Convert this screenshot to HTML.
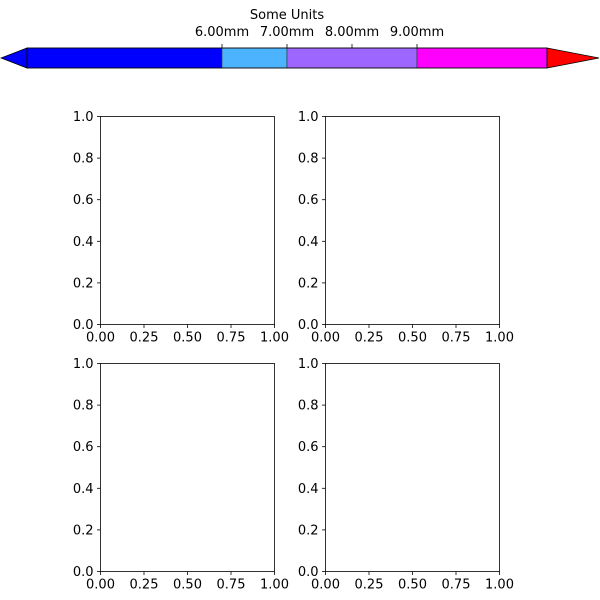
<!DOCTYPE html>
<html><head><meta charset="utf-8"><style>body{margin:0;background:#fff}svg{display:block}text{font-family:"DejaVu Sans","Liberation Sans",sans-serif;font-size:13px;fill:#000}</style></head>
<body>
<svg id="c" width="600" height="600"></svg>
<script>
const boundaries=[3,6,7,9,11];
const colors=['#0000ff','#4cb4ff','#9c66ff','#ff00ff'];
const cbTicks=[6,7,8,9];
const cbTickLabels=['6.00mm','7.00mm','8.00mm','9.00mm'];
const xTicks=[0,0.25,0.5,0.75,1];
const xTickLabels=['0.00','0.25','0.50','0.75','1.00'];
const yTicks=[0,0.2,0.4,0.6,0.8,1];
const yTickLabels=['0.0','0.2','0.4','0.6','0.8','1.0'];
const NS='http://www.w3.org/2000/svg';
const svg=document.getElementById('c');
function mk(t,a,p){const e=document.createElementNS(NS,t);for(const k in a)e.setAttribute(k,a[k]);(p||svg).appendChild(e);return e;}
const cx0=27,cx1=547,cy0=48,cy1=68;
const cbX=v=>cx0+(v-boundaries[0])/(boundaries[boundaries.length-1]-boundaries[0])*(cx1-cx0);
const cb=mk('g',{});


const l=mk('polygon',{points:`${cx0},${cy0} 1,58 ${cx0},${cy1}`,fill:'#0000ff',stroke:'#000','stroke-width':0.8},cb);


const r=mk('polygon',{points:`${cx1},${cy0} 599,58 ${cx1},${cy1}`,fill:'#ff0000',stroke:'#000','stroke-width':0.8},cb);


for(let i=0;i<colors.length;i++){
 const s=mk('rect',{x:cbX(boundaries[i]),y:cy0,width:cbX(boundaries[i+1])-cbX(boundaries[i]),height:cy1-cy0,fill:colors[i],stroke:'#333','stroke-width':0.6},cb);
 
 
}
mk('rect',{x:cx0,y:cy0,width:cx1-cx0,height:cy1-cy0,fill:'none',stroke:'#000','stroke-width':0.8},cb);
cbTicks.forEach((v,i)=>{
 const x=cbX(v);
 mk('line',{x1:x,x2:x,y1:cy0,y2:cy0-4,stroke:'#000','stroke-width':0.8},cb);
 const t=mk('text',{x:x,y:cy0-12,'text-anchor':'middle'},cb);t.textContent=cbTickLabels[i];
 
 
});
const tt=mk('text',{x:287,y:19,'text-anchor':'middle'},cb);tt.textContent='Some Units';


const axesPos=[[100.5,116.5],[325.5,116.5],[100.5,363.5],[325.5,363.5]];
axesPos.forEach((p,k)=>{
 const w=174,h=208;
 const g=mk('g',{});
 
 
 mk('rect',{x:p[0],y:p[1],width:w,height:h,fill:'#fff',stroke:'#000','stroke-width':0.8},g);
 const X=v=>p[0]+v*w, Y=v=>p[1]+h-v*h;
 xTicks.forEach((v,i)=>{
  mk('line',{x1:X(v),x2:X(v),y1:p[1]+h,y2:p[1]+h+3.5,stroke:'#000','stroke-width':0.8},g);
  const t=mk('text',{x:X(v),y:p[1]+h+17,'text-anchor':'middle'},g);t.textContent=xTickLabels[i];
  
  
 });
 yTicks.forEach((v,i)=>{
  mk('line',{x1:p[0],x2:p[0]-3.5,y1:Y(v),y2:Y(v),stroke:'#000','stroke-width':0.8},g);
  const t=mk('text',{x:p[0]-7,y:Y(v)+4.5,'text-anchor':'end'},g);t.textContent=yTickLabels[i];
  
  
 });
});
</script>
</body></html>
